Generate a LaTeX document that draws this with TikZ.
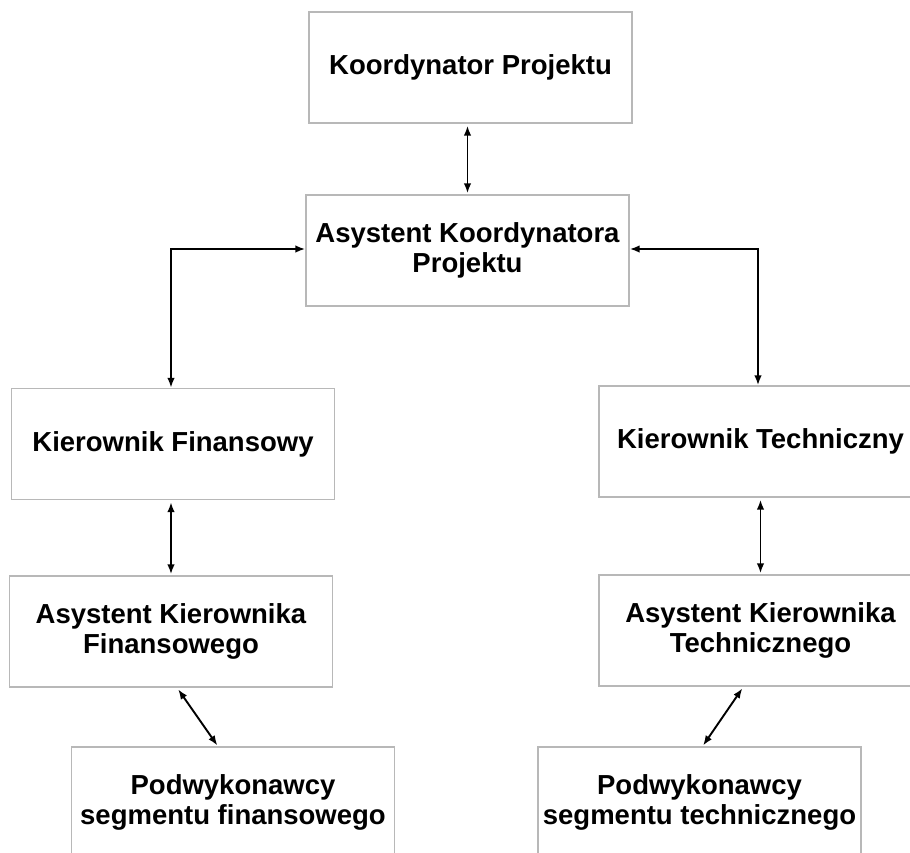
\documentclass[tikz,border=0pt]{standalone}
\usepackage{fontspec}
\setmainfont{Liberation Sans}
\usetikzlibrary{arrows.meta,positioning}

\begin{document}
\begin{tikzpicture}[x=1pt,y=1pt,>={Latex[length=10pt,width=7.5pt]},line width=1.9pt]
  \tikzstyle{box}=[draw=black!28,line width=1.3pt,inner sep=2pt,minimum width=323pt,minimum height=111pt,align=center,font=\fontsize{27.5}{30.5}\selectfont\bfseries]
  \useasboundingbox (0,0) rectangle (910,-852);
  \node[box] (kp) at (470.5,-67.5) {Koordynator Projektu};
  \node[box] (akp) at (467.5,-250.5) {Asystent Koordynatora\\Projektu};
  \node[box] (kf) at (173,-444) {Kierownik Finansowy};
  \node[box] (kt) at (760.5,-441.5) {Kierownik Techniczny};
  \node[box] (akf) at (171,-631.5) {Asystent Kierownika\\Finansowego};
  \node[box] (akt) at (760.5,-630.5) {Asystent Kierownika\\Technicznego};
  \node[box] (pf) at (233,-802.5) {Podwykonawcy\\segmentu finansowego};
  \node[box] (pt) at (699.5,-802.5) {Podwykonawcy\\segmentu technicznego};
  \path[<->,shorten <=2pt,shorten >=1pt]
  (akp.north |- kp.south) edge (akp.north)
  (akf.north |- kf.south) edge (akf.north)
  (akt.north |- kt.south) edge (akt.north)
  ([xshift=6pt]akf.south) edge ([xshift=-15pt]pf.north)
  ([xshift=-17pt]akt.south) edge ([xshift=3pt]pt.north)
  ;
  \draw[<->] ([yshift=1.5pt]akp.west) -| ([xshift=-2pt]kf.north);
  \draw[<->] ([yshift=1.5pt]akp.east) -| ([xshift=-2.5pt]kt.north);
\end{tikzpicture}
\end{document}
